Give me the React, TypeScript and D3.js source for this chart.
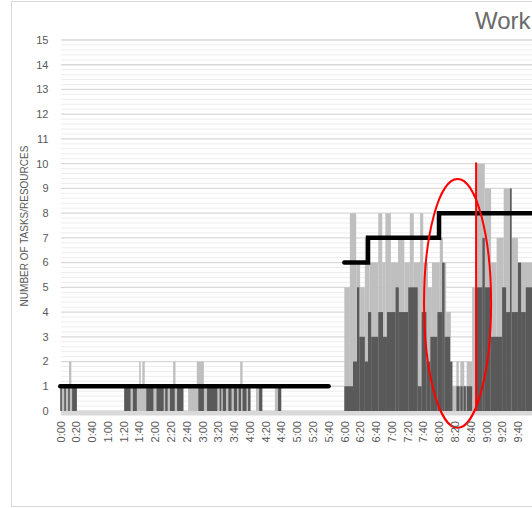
import React from "react";
import * as d3 from "d3";

// ---- Data (minutes since 0:00) ----
const yTicks = [0, 1, 2, 3, 4, 5, 6, 7, 8, 9, 10, 11, 12, 13, 14, 15];
const xTickLabels = [
  "0:00", "0:20", "0:40", "1:00", "1:20", "1:40", "2:00", "2:20", "2:40", "3:00",
  "3:20", "3:40", "4:00", "4:20", "4:40", "5:00", "5:20", "5:40", "6:00", "6:20",
  "6:40", "7:00", "7:20", "7:40", "8:00", "8:20", "8:40", "9:00", "9:20", "9:40",
];

// [startMinute, endMinute, value]
const lightRuns: [number, number, number][] = [
  [0, 21, 1], [11, 14, 2],
  [81, 156, 1], [100, 102, 2], [104, 107, 2], [143, 146, 2],
  [162, 241, 1], [173, 182, 2], [228, 231, 2],
  [248, 256, 1], [272, 280, 1],
  [360, 367, 5], [367, 375, 8], [375, 380, 6], [380, 386, 5], [386, 392, 7],
  [392, 403, 6], [403, 408, 8], [408, 412, 6], [412, 419, 8], [419, 428, 6],
  [428, 436, 7], [436, 443, 6], [443, 448, 8], [448, 456, 6], [456, 460, 8],
  [460, 466, 6], [466, 471, 5], [471, 481, 6], [481, 485, 7], [485, 489, 6],
  [489, 495, 4], [495, 502, 1], [502, 505, 2], [505, 507, 1], [507, 512, 2],
  [512, 515, 1], [515, 522, 2], [522, 528, 5], [528, 538, 10], [538, 546, 9],
  [546, 553, 6], [553, 562, 7], [562, 572, 9], [572, 580, 7], [580, 600, 6],
];

const darkRuns: [number, number, number][] = [
  [0, 2, 1], [5, 7, 1], [10, 12, 1], [15, 21, 1],
  [81, 89, 1], [92, 97, 1], [109, 118, 1], [122, 131, 1], [133, 136, 1],
  [139, 145, 1], [148, 156, 1],
  [175, 182, 1], [186, 199, 1], [202, 204, 1], [206, 210, 1], [213, 217, 1],
  [220, 224, 1], [226, 229, 1], [231, 236, 1], [238, 241, 1], [252, 256, 1],
  [276, 280, 1],
  [360, 371, 1], [371, 376, 2], [376, 379, 5], [379, 386, 3], [386, 390, 2],
  [390, 394, 4], [394, 403, 3], [403, 409, 4], [409, 414, 3], [414, 425, 4],
  [425, 429, 5], [429, 441, 4], [441, 453, 5], [453, 458, 1], [458, 464, 4],
  [464, 469, 2], [469, 478, 3], [478, 484, 4], [484, 487, 6], [487, 494, 3],
  [494, 497, 2], [502, 506, 1], [507, 510, 1], [511, 514, 1], [515, 522, 1],
  [528, 535, 5], [535, 538, 7], [538, 545, 5], [545, 560, 3], [560, 565, 5],
  [565, 570, 4], [570, 572, 9], [572, 580, 4], [580, 584, 6], [584, 590, 4],
  [590, 600, 5],
];

const resourceRuns: [number, number, number][] = [
  [0, 340, 1], [360, 390, 6], [390, 480, 7], [480, 600, 8],
];

// annotation (data coordinates)
const markerMinute = 527;
const markerTop = 10.05;
const ellipseCenter = [503.5, 4.35];
const ellipseRadius = [42.5, 5.03];

const titleText = "Work";
const yAxisTitle = "NUMBER OF TASKS/RESOURCES";

export default function App() {
  const W = 532;
  const H = 508;
  const x = d3.scaleLinear().domain([0, 600]).range([60.3, 60.3 + 0.789 * 600]);
  const y = d3.scaleLinear().domain([0, 15]).range([411, 40]);
  const plotLeft = 61;
  const font = "'Liberation Sans', Arial, sans-serif";

  const minor = d3.range(0, 15.001, 0.2).filter((v) => Math.abs(v - Math.round(v)) > 0.01);

  // resource step line segments
  const segments: [number, number][][] = [];
  let cur: [number, number][] = [];
  resourceRuns.forEach((r, i) => {
    const prev = resourceRuns[i - 1];
    if (!prev || prev[1] !== r[0]) {
      if (cur.length) segments.push(cur);
      cur = [];
    }
    cur.push([r[0], r[2]], [r[1], r[2]]);
  });
  if (cur.length) segments.push(cur);
  const line = d3
    .line<[number, number]>()
    .x((d) => x(d[0]))
    .y((d) => y(d[1]));

  const toMin = (s: string) => {
    const [h, m] = s.split(":").map(Number);
    return h * 60 + m;
  };

  return (
    <svg
      width={W}
      height={H}
      style={{ position: "absolute", left: 0, top: 0, background: "#fff" }}
    >
      <rect x={11.5} y={1.5} width={W} height={505} fill="#fff" stroke="#D9D9D9" />
      <text x={475} y={28.5} fontFamily={font} fontSize={24} fill="#6A6A6A">
        {titleText}
      </text>
      {/* minor gridlines */}
      {minor.map((v) => (
        <line key={"m" + v} x1={plotLeft} x2={W} y1={y(v)} y2={y(v)} stroke="#EDEDED" strokeWidth={1} />
      ))}
      {yTicks.map((v) => (
        <line key={"g" + v} x1={plotLeft} x2={W} y1={y(v)} y2={y(v)} stroke="#D9D9D9" strokeWidth={1.3} />
      ))}
      {/* light series */}
      {lightRuns.map((r, i) => (
        <rect key={"l" + i} x={x(r[0])} width={x(r[1]) - x(r[0])} y={y(r[2])} height={y(0) - y(r[2])} fill="#BFBFBF" />
      ))}
      {darkRuns.map((r, i) => (
        <rect key={"d" + i} x={x(r[0])} width={x(r[1]) - x(r[0])} y={y(r[2])} height={y(0) - y(r[2])} fill="#595959" />
      ))}
      {/* axis band */}
      <rect x={plotLeft} y={y(0)} width={W - plotLeft} height={4.5} fill="#D9D9D9" />
      {/* resources line */}
      {segments.map((s, i) => (
        <path key={"s" + i} d={line(s) || ""} fill="none" stroke="#000" strokeWidth={4.5} strokeLinecap="round" strokeLinejoin="miter" />
      ))}
      {/* annotations */}
      <line x1={x(markerMinute)} x2={x(markerMinute)} y1={y(markerTop)} y2={y(0)} stroke="#FF0000" strokeWidth={2} />
      <ellipse
        cx={x(ellipseCenter[0])}
        cy={y(ellipseCenter[1])}
        rx={x(ellipseRadius[0]) - x(0)}
        ry={y(0) - y(ellipseRadius[1])}
        fill="none"
        stroke="#FF0000"
        strokeWidth={2}
      />
      {/* y tick labels */}
      {yTicks.map((v) => (
        <text key={"yt" + v} x={48.5} y={y(v)} dy="0.35em" textAnchor="end" fontFamily={font} fontSize={11} fill="#595959">
          {v}
        </text>
      ))}
      {/* x tick labels */}
      {xTickLabels.map((l) => {
        const px = x(toMin(l) + 0.5);
        return (
          <text
            key={"xt" + l}
            transform={`translate(${px},421) rotate(-90)`}
            dy="0.35em"
            textAnchor="end"
            fontFamily={font}
            fontSize={11}
            fill="#595959"
          >
            {l}
          </text>
        );
      })}
      <text
        transform={`translate(24.5,226) rotate(-90)`}
        dy="0.35em"
        textAnchor="middle"
        fontFamily={font}
        fontSize={10}
        fill="#595959"
      >
        {yAxisTitle}
      </text>
    </svg>
  );
}
